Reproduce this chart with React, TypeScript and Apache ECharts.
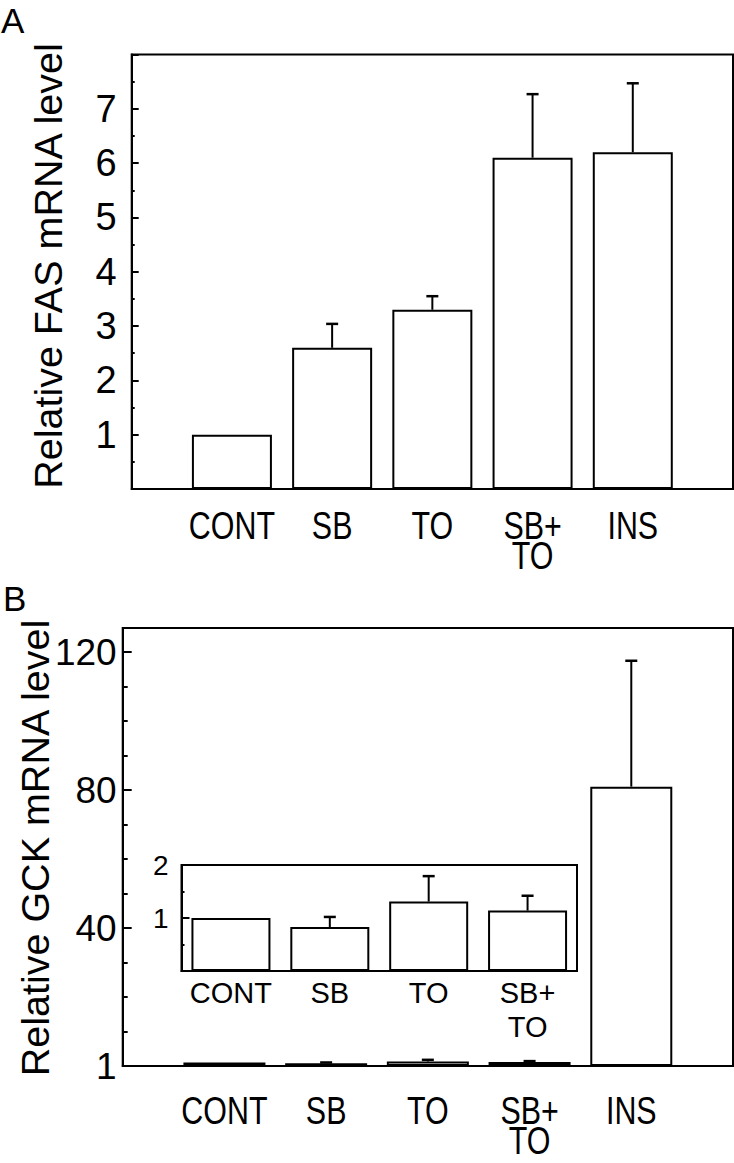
import React, { useEffect, useRef } from 'react';
import * as echarts from 'echarts';

// ---- data ----
const categories = ['CONT', 'SB', 'TO', 'SB+\nTO', 'INS'];
const fasMeans = [1.0, 2.6, 3.3, 6.1, 6.2];
const fasErrors = [0, 0.44, 0.25, 1.17, 1.27];
const fasTickLabels = ['1', '2', '3', '4', '5', '6', '7'];

const gckMeans = [1.0, 0.83, 1.31, 1.14, 81];
const gckErrors = [0, 0.19, 0.48, 0.28, 36.5];
const gckTickValues = [0, 40, 80, 120];
const gckTickLabels = ['1', '40', '80', '120'];

const insetCategories = ['CONT', 'SB', 'TO', 'SB+\nTO'];
const insetMeans = [1.0, 0.83, 1.31, 1.14];
const insetErrors = [0, 0.19, 0.48, 0.28];
const insetTickLabels = ['1', '2'];

const SANS = '"Liberation Sans", Arial, Helvetica, sans-serif';

function errorSeries(xIndex: number, yIndex: number, means: number[], errs: number[], offset: number) {
  const data = means
    .map((m, i) => [i + offset, m, m + errs[i]])
    .filter((d) => d[2] > d[1]);
  return {
    type: 'custom',
    xAxisIndex: xIndex,
    yAxisIndex: yIndex,
    z: 5,
    encode: { x: 0, y: [1, 2] },
    data,
    renderItem: (params: any, api: any) => {
      const x = api.value(0);
      const lo = api.value(1);
      const hi = api.value(2);
      const p1 = api.coord([x, lo]);
      const p2 = api.coord([x, hi]);
      return {
        type: 'group',
        children: [
          { type: 'line', shape: { x1: p1[0], y1: p1[1], x2: p2[0], y2: p2[1] }, style: { stroke: '#000', lineWidth: 2 } },
          { type: 'line', shape: { x1: p2[0] - 6, y1: p2[1], x2: p2[0] + 6, y2: p2[1] }, style: { stroke: '#000', lineWidth: 2.5 } },
        ],
      };
    },
  };
}

export default function App() {
  const ref = useRef<HTMLDivElement>(null);
  useEffect(() => {
    if (!ref.current) return;
    const chart = echarts.init(ref.current, undefined, { renderer: 'svg' });
    const mainCats = ['', ...categories, ''];
    const barStyle = { color: '#fff', borderColor: '#000', borderWidth: 2 };
    const gridBox = { show: true, borderColor: '#000', borderWidth: 2, backgroundColor: 'transparent', containLabel: false, outerBoundsMode: 'none' };
    const axisLine = { show: true, lineStyle: { color: '#000', width: 2 } };

    const baseGraphics: any[] = [
      { type: 'text', x: 1, y: 20, style: { text: 'A', fontSize: 35, fill: '#000', fontFamily: SANS, textVerticalAlign: 'middle' } },
      { type: 'text', x: 3, y: 598, style: { text: 'B', fontSize: 35, fill: '#000', fontFamily: SANS, textVerticalAlign: 'middle' } },
      {
        type: 'text', x: 48, y: 266, rotation: Math.PI / 2,
        style: { text: 'Relative FAS mRNA level', fontSize: 39.5, fill: '#000', fontFamily: SANS, textAlign: 'center', textVerticalAlign: 'middle' },
      },
      {
        type: 'text', x: 35, y: 848, rotation: Math.PI / 2,
        style: { text: 'Relative GCK mRNA level', fontSize: 39.5, fill: '#000', fontFamily: SANS, textAlign: 'center', textVerticalAlign: 'middle' },
      },
    ];

    const option: any = {
      animation: false,
      backgroundColor: '#fff',
      grid: [
        { left: 131.7, top: 54.5, width: 601.3, height: 434.5, ...gridBox },
        { left: 122.7, top: 628, width: 610.3, height: 438, ...gridBox },
        { left: 181.5, top: 865, width: 395.5, height: 106, ...gridBox },
      ],
      xAxis: [
        {
          gridIndex: 0, type: 'category', data: mainCats, boundaryGap: false,
          axisLine, axisTick: { show: false }, axisLabel: { show: false },
        },
        {
          gridIndex: 1, type: 'category', data: mainCats, boundaryGap: false,
          axisLine, axisTick: { show: false }, axisLabel: { show: false },
        },
        {
          gridIndex: 2, type: 'category', data: insetCategories, boundaryGap: true,
          axisLine, axisTick: { show: false },
          axisLabel: { interval: 0, margin: 5, fontSize: 29, lineHeight: 34, color: '#000', fontFamily: SANS },
        },
      ],
      yAxis: [
        {
          gridIndex: 0, type: 'value', position: 'left', min: 0, max: 8, interval: 1,
          axisLine, splitLine: { show: false },
          axisTick: { show: true, inside: true, length: 7, lineStyle: { color: '#000', width: 2 } },
          minorTick: { show: true, splitNumber: 2, length: 3, lineStyle: { color: '#000', width: 2 } },
          axisLabel: {
            margin: 15, fontSize: 38, color: '#000', fontFamily: SANS,
            formatter: (v: number) => (v >= 1 && v <= 7 ? fasTickLabels[v - 1] : ''),
          },
        },
        {
          gridIndex: 1, type: 'value', position: 'left', min: 0, max: 127, interval: 10,
          axisLine, splitLine: { show: false },
          axisTick: { show: true, inside: true, length: 5, lineStyle: { color: '#000', width: 2 } },
          axisLabel: { show: false },
        },
        {
          gridIndex: 1, type: 'value', position: 'left', offset: 0, min: 0, max: 127, interval: 40,
          axisLine, splitLine: { show: false },
          axisTick: { show: true, inside: true, length: 9, lineStyle: { color: '#000', width: 2 } },
          axisLabel: {
            margin: 6, fontSize: 37, color: '#000', fontFamily: SANS,
            formatter: (v: number) => {
              const i = gckTickValues.indexOf(v);
              return i >= 0 ? gckTickLabels[i] : '';
            },
          },
        },
        {
          gridIndex: 2, type: 'value', position: 'left', min: 0, max: 2, interval: 1,
          axisLine, splitLine: { show: false },
          axisTick: { show: true, inside: true, length: 8, lineStyle: { color: '#000', width: 2 } },
          minorTick: { show: true, splitNumber: 2, length: 3, lineStyle: { color: '#000', width: 2 } },
          axisLabel: {
            margin: 13, fontSize: 28, color: '#000', fontFamily: SANS,
            formatter: (v: number) => (v === 1 || v === 2 ? insetTickLabels[v - 1] : ''),
          },
        },
      ],
      series: [
        { type: 'bar', xAxisIndex: 0, yAxisIndex: 0, barWidth: 80, itemStyle: barStyle, data: ['-', ...fasMeans, '-'] },
        errorSeries(0, 0, fasMeans, fasErrors, 1),
        { type: 'bar', xAxisIndex: 1, yAxisIndex: 2, barWidth: 82, itemStyle: barStyle, data: ['-', ...gckMeans, '-'] },
        errorSeries(1, 2, gckMeans, gckErrors, 1),
        { type: 'bar', xAxisIndex: 2, yAxisIndex: 3, barWidth: 79, itemStyle: barStyle, data: insetMeans },
        errorSeries(2, 3, insetMeans, insetErrors, 0),
      ],
      graphic: baseGraphics,
    };
    chart.setOption(option);

    // condensed category labels for the two main panels, positioned by the category axes
    const labelGraphics: any[] = [];
    const rows = [
      { axis: 0, y: 511 },
      { axis: 1, y: 1096 },
    ];
    rows.forEach((r) => {
      categories.forEach((c, i) => {
        const px = chart.convertToPixel({ xAxisIndex: r.axis } as any, i + 1) as any;
        labelGraphics.push({
          type: 'text', x: px, y: r.y, scaleX: 0.8,
          style: { text: c, fontSize: 38, lineHeight: 30, fill: '#000', fontFamily: SANS, textAlign: 'center', textVerticalAlign: 'top' },
        });
      });
    });
    chart.setOption({ graphic: [...baseGraphics, ...labelGraphics] });
    return () => chart.dispose();
  }, []);
  return <div ref={ref} style={{ position: 'absolute', left: 0, top: 0, width: 734, height: 1163 }} />;
}
